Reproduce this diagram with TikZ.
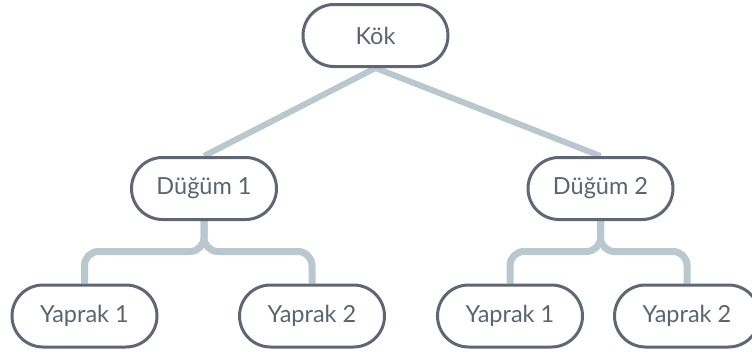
\documentclass[tikz,border=0pt]{standalone}
\usepackage{fontspec}
\setmainfont{Lato}
\usetikzlibrary{backgrounds}
\definecolor{boxline}{HTML}{5F6774}
\definecolor{boxtext}{HTML}{5C6470}
\definecolor{conn}{HTML}{B9C7CE}
\tikzset{
  treenode/.style={draw=boxline, line width=3pt, fill=white, rounded corners=31pt,
    minimum width=145pt, minimum height=62pt, inner sep=0pt, text=boxtext,
    font=\fontsize{23.5}{28}\selectfont},
  conntop/.style={draw=conn, line width=6pt},
  connfork/.style={draw=conn, line width=7pt, rounded corners=14pt}
}
\begin{document}
\begin{tikzpicture}[x=1pt,y=-1pt]
\useasboundingbox (0,0) rectangle (752,356);
\node[treenode] (kok) at (375.5,35.5) {Kök};
\node[treenode] (d1) at (204,188.5) {Düğüm 1};
\node[treenode] (d2) at (600.5,188.5) {Düğüm 2};
\node[treenode] (y11) at (84.5,316) {Yaprak 1};
\node[treenode] (y12) at (312,316) {Yaprak 2};
\node[treenode] (y21) at (510,316) {Yaprak 1};
\node[treenode] (y22) at (687,316) {Yaprak 2};
\coordinate (f1) at (204,251.5);
\coordinate (f2) at (600.5,251.5);
\begin{pgfonlayer}{background}
\draw[conntop] (kok.south) -- (d1.north);
\draw[conntop] (kok.south) -- (d2.north);
\draw[connfork] (y11.north) -- (y11.north |- f1) -- (f1) -- (d1.south);
\draw[connfork] (y12.north) -- (y12.north |- f1) -- (f1) -- (d1.south);
\draw[connfork] (y21.north) -- (y21.north |- f2) -- (f2) -- (d2.south);
\draw[connfork] (y22.north) -- (y22.north |- f2) -- (f2) -- (d2.south);
\end{pgfonlayer}
\end{tikzpicture}
\end{document}
